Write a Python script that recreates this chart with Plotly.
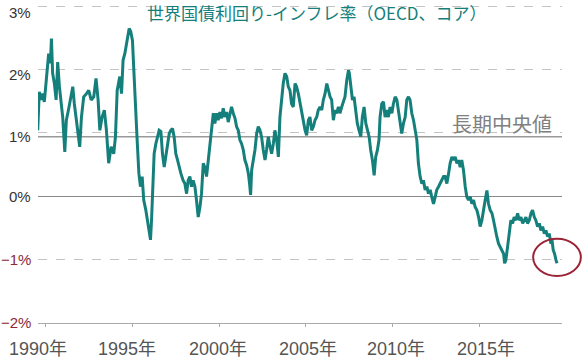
import plotly.graph_objects as go

# ---- data ----
years = [
    1989.54, 1989.58, 1989.63, 1989.73, 1989.83, 1989.92, 1990.02, 1990.08, 1990.17, 1990.27,
    1990.33, 1990.40, 1990.50, 1990.60, 1990.69, 1990.79, 1990.88, 1990.98, 1991.10, 1991.19,
    1991.33, 1991.46, 1991.56, 1991.65, 1991.81, 1991.96, 1992.06, 1992.19, 1992.35, 1992.48,
    1992.62, 1992.77, 1992.90, 1993.02, 1993.12, 1993.25, 1993.38, 1993.50, 1993.63, 1993.77,
    1993.92, 1994.02, 1994.12, 1994.27,
    1994.37, 1994.46, 1994.56, 1994.65, 1994.75, 1994.81, 1994.90, 1995.00, 1995.08, 1995.17,
    1995.27, 1995.37, 1995.46, 1995.56, 1995.65, 1995.77, 1995.87, 1995.96, 1996.04, 1996.10,
    1996.17, 1996.25, 1996.35, 1996.44, 1996.54, 1996.64, 1996.73, 1996.83, 1996.92, 1997.02,
    1997.12, 1997.21, 1997.31, 1997.40, 1997.50, 1997.60, 1997.69, 1997.79, 1997.92, 1998.02,
    1998.12, 1998.21, 1998.31, 1998.40, 1998.50, 1998.60, 1998.69, 1998.79, 1998.89, 1998.98,
    1999.08, 1999.17,
    1999.27, 1999.37, 1999.46, 1999.56, 1999.66, 1999.75, 1999.85, 1999.94, 2000.04, 2000.14,
    2000.23, 2000.33, 2000.43, 2000.52, 2000.62, 2000.71, 2000.81, 2000.91, 2001.00, 2001.10,
    2001.19, 2001.29, 2001.39, 2001.48, 2001.58, 2001.68, 2001.75, 2001.81, 2001.87, 2001.96,
    2002.06, 2002.16, 2002.25, 2002.35, 2002.44, 2002.54, 2002.64, 2002.73, 2002.83, 2002.93,
    2003.02, 2003.12, 2003.21, 2003.31, 2003.41, 2003.50, 2003.60, 2003.69, 2003.79, 2003.89,
    2003.98, 2004.08, 2004.17,
    2004.27, 2004.37, 2004.46, 2004.56, 2004.66, 2004.75, 2004.85, 2004.95, 2005.04, 2005.14,
    2005.23, 2005.33, 2005.43, 2005.52, 2005.62, 2005.71, 2005.81, 2005.91, 2006.00, 2006.10,
    2006.20, 2006.29, 2006.39, 2006.48, 2006.58, 2006.68, 2006.77, 2006.87, 2006.96, 2007.06,
    2007.16, 2007.25, 2007.35, 2007.45, 2007.50, 2007.58, 2007.68, 2007.77, 2007.87, 2007.96,
    2008.06, 2008.16, 2008.25, 2008.35, 2008.45, 2008.54, 2008.64, 2008.73, 2008.83, 2008.93,
    2009.02, 2009.12, 2009.21,
    2009.27, 2009.37, 2009.47, 2009.56, 2009.66, 2009.75, 2009.85, 2009.95, 2010.04, 2010.14,
    2010.24, 2010.33, 2010.43, 2010.52, 2010.62, 2010.72, 2010.81, 2010.91, 2011.00, 2011.10,
    2011.20, 2011.29, 2011.39, 2011.48, 2011.58, 2011.68, 2011.77, 2011.87, 2011.97, 2012.06,
    2012.16, 2012.25, 2012.35, 2012.45, 2012.54, 2012.64, 2012.74, 2012.83, 2012.93, 2013.02,
    2013.12, 2013.22, 2013.31, 2013.41, 2013.50, 2013.60, 2013.70, 2013.79, 2013.89,
    2013.98, 2014.08, 2014.18, 2014.27, 2014.37, 2014.47, 2014.56, 2014.66, 2014.75, 2014.85,
    2014.95, 2015.04, 2015.14, 2015.24, 2015.33, 2015.43, 2015.52, 2015.62, 2015.72, 2015.81,
    2015.91, 2016.00, 2016.10, 2016.20, 2016.29, 2016.39, 2016.45, 2016.52, 2016.62, 2016.72,
    2016.81, 2016.91, 2017.00, 2017.10, 2017.20, 2017.29, 2017.39, 2017.49, 2017.58, 2017.68,
    2017.77, 2017.87, 2017.97, 2018.06, 2018.16, 2018.25, 2018.35, 2018.45, 2018.54, 2018.64,
    2018.74, 2018.83, 2018.93, 2019.02, 2019.12, 2019.18, 2019.25, 2019.33, 2019.41, 2019.47,
]

real_yield = [
    1.04, 1.46, 1.65, 1.52, 1.62, 1.49, 1.78, 1.99, 2.25, 2.10,
    2.49, 1.94, 1.78, 1.52, 2.12, 1.73, 1.46, 1.25, 0.70, 1.20,
    1.39, 1.62, 1.73, 1.46, 1.15, 0.78, 1.25, 1.57, 1.62, 1.67,
    1.52, 1.57, 1.86, 1.52, 1.04, 1.25, 1.36, 1.04, 0.52, 0.78,
    0.67, 0.94, 1.67, 1.89,
    1.62, 2.15, 2.25, 2.41, 2.54, 2.65, 2.60, 2.46, 1.99, 1.36,
    0.89, 0.36, 0.15, 0.31, -0.06, -0.22, -0.38, -0.59, -0.69, -0.38,
    0.25, 0.67, 0.83, 0.94, 1.04, 1.02, 0.67, 0.46, 0.62, 0.78,
    0.99, 1.04, 1.07, 0.94, 0.67, 0.57, 0.46, 0.36, 0.25, 0.20,
    0.04, 0.25, 0.31, 0.15, 0.25, 0.15, -0.06, -0.33, -0.17, 0.04,
    0.52, 0.46,
    0.31, 0.57, 0.89, 1.15, 1.31, 1.15, 1.31, 1.20, 1.33, 1.23,
    1.39, 1.25, 1.33, 1.17, 1.31, 1.41, 1.31, 1.23, 1.10, 1.04,
    0.89, 0.83, 0.73, 0.57, 0.49, 0.36, 0.20, 0.02, 0.41, 0.57,
    0.73, 0.99, 1.10, 1.04, 0.94, 0.73, 0.57, 0.73, 0.94, 0.78,
    0.67, 0.83, 1.04, 0.89, 0.62, 1.25, 1.57, 1.78, 1.94, 1.89,
    1.73, 1.67, 1.46,
    1.41, 1.78, 1.73, 1.62, 1.46, 1.36, 1.20, 1.04, 0.96, 1.20,
    1.25, 1.04, 1.10, 1.20, 1.25, 1.36, 1.41, 1.36, 1.52, 1.62,
    1.78, 1.67, 1.57, 1.52, 1.20, 1.36, 1.31, 1.41, 1.31, 1.41,
    1.52, 1.57, 1.83, 1.99, 1.94, 1.73, 1.52, 1.57, 1.31, 1.15,
    1.04, 0.94, 1.25, 1.41, 1.15, 1.04, 0.94, 0.73, 0.57, 0.33,
    0.62, 0.73, 0.89,
    1.25, 1.46, 1.49, 1.25, 1.36, 1.25, 1.41, 1.31, 1.46, 1.57,
    1.52, 1.36, 1.20, 0.99, 1.15, 1.25, 1.52, 1.57, 1.52, 1.31,
    1.20, 1.04, 0.89, 0.52, 0.31, 0.20, 0.25, 0.10, 0.15, 0.04,
    0.10, -0.01, -0.12, -0.01, 0.10, 0.15, 0.20, 0.25, 0.31, 0.31,
    0.20, 0.36, 0.52, 0.62, 0.57, 0.62, 0.52, 0.57, 0.46,
    0.57, 0.41, 0.15, -0.01, -0.06, -0.01, -0.12, -0.06, -0.17, -0.22,
    -0.33, -0.48, -0.38, -0.17, -0.06, 0.09, -0.12, -0.22, -0.27, -0.38,
    -0.54, -0.64, -0.75, -0.80, -0.85, -0.91, -1.06, -1.01, -0.80, -0.59,
    -0.38, -0.43, -0.33, -0.38, -0.27, -0.38, -0.33, -0.43, -0.38, -0.33,
    -0.43, -0.38, -0.27, -0.22, -0.33, -0.38, -0.48, -0.43, -0.54, -0.48,
    -0.59, -0.54, -0.64, -0.59, -0.75, -0.69, -0.85, -0.91, -1.01, -1.06,
]

median_value = 0.94
x_tick_years = [1990, 1995, 2000, 2005, 2010, 2015]
x_tick_labels = [f"{y}年" for y in x_tick_years]
y_tick_values = [-2, -1, 0, 1, 2, 3]
y_tick_labels = ["−2%", "−1%", "0%", "1%", "2%", "3%"]
title_text = "世界国債利回り-インフレ率（OECD、コア）"
median_label = "長期中央値"

# label placement tweaks (style only)
x_label_shift = [-7.5, -5.5, -1, 2, 3.5, 6.5]
y_label_shift = [0, 0, 0, -4, -5, -6]

FONT = "Noto Sans CJK JP"
NUM_FONT = "Liberation Sans, Noto Sans CJK JP"
TEAL = "#15807B"
DARK_RED = "#8E2A36"

fig = go.Figure()
fig.add_trace(go.Scatter(
    x=years, y=real_yield, mode="lines",
    line=dict(color=TEAL, width=3.0),
    hoverinfo="skip", showlegend=False,
))

annotations = [
    dict(text=title_text, xref="paper", yref="paper", x=0.533, y=0.975,
         xanchor="center", yanchor="middle", showarrow=False,
         font=dict(size=17, color=TEAL, family=FONT)),
    dict(text=median_label, xref="paper", yref="y", x=0.985, y=median_value,
         xanchor="right", yanchor="bottom", showarrow=False, yshift=-3,
         font=dict(size=20, color="#808080", family=FONT)),
]
for v, lab, sh in zip(y_tick_values, y_tick_labels, y_label_shift):
    annotations.append(dict(
        text=lab, xref="paper", yref="y", x=0, y=v, xanchor="right", yanchor="middle",
        xshift=-5, yshift=sh, showarrow=False,
        font=dict(size=15, family=NUM_FONT, color=DARK_RED if v < 0 else "#333333"),
    ))
for yr, lab, sh in zip(x_tick_years, x_tick_labels, x_label_shift):
    annotations.append(dict(
        text=lab, xref="x", yref="paper", x=yr, y=0, xanchor="center", yanchor="middle",
        xshift=sh, yshift=-26, showarrow=False,
        font=dict(size=18, family=NUM_FONT, color="#555555"),
    ))

fig.update_layout(
    width=584, height=358,
    margin=dict(l=38, r=22, t=5, b=35, autoexpand=False),
    paper_bgcolor="white", plot_bgcolor="white",
    font=dict(family=FONT, color="#555555"),
    showlegend=False,
    xaxis=dict(
        range=[1989.556, 2019.757],
        tickvals=x_tick_years, showticklabels=False,
        ticks="outside", ticklen=3, tickcolor="#aaaaaa",
        showgrid=False, zeroline=False,
        showline=True, linecolor="#aaaaaa", linewidth=1,
        automargin=False,
    ),
    yaxis=dict(
        range=[-2.003, 3.02],
        tickvals=y_tick_values, showticklabels=False,
        ticks="", showgrid=True, gridcolor="#c4c4c4", griddash="dash", gridwidth=1,
        zeroline=True, zerolinecolor="#8a8a8a", zerolinewidth=1,
        showline=False, automargin=False,
    ),
    shapes=[
        dict(type="line", xref="paper", x0=0, x1=1, yref="y", y0=median_value, y1=median_value,
             line=dict(color="#999999", width=1.5), layer="below"),
        dict(type="circle", xref="paper", yref="paper",
             x0=0.945, x1=1.036, y0=0.148, y1=0.265,
             line=dict(color="#9B2335", width=2)),
    ],
    annotations=annotations,
)

fig.write_html(
    "out.html",
    config={"displayModeBar": False},
    post_script="document.body.style.margin='0';document.body.style.overflow='hidden';",
)
